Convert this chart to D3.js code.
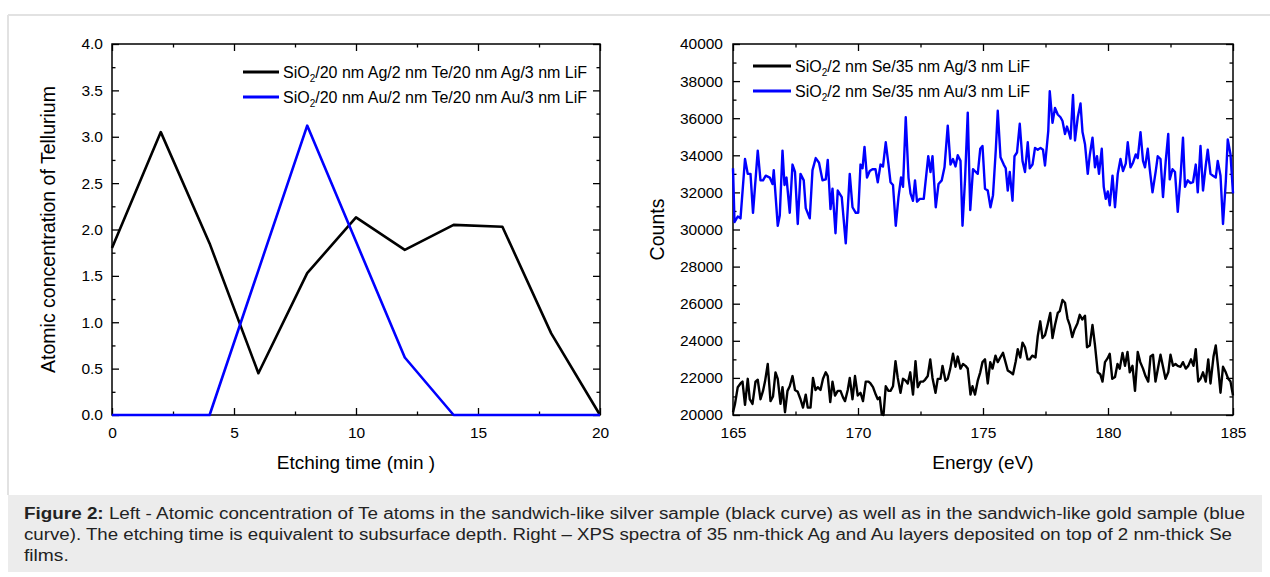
<!DOCTYPE html>
<html>
<head>
<meta charset="utf-8">
<script src="https://d3js.org/d3.v7.min.js"></script>
<style>
  body { margin:0; background:#fff; }
  svg text { font-family: "Liberation Sans", Arial, sans-serif; }
</style>
</head>
<body>
<svg id="fig"></svg>
<script>
//********************** left panel data ************************//
var etchTime = [0, 2, 4, 6, 8, 10, 12, 14, 16, 18, 20];
var teAg = [1.80, 3.05, 1.85, 0.45, 1.53, 2.13, 1.78, 2.05, 2.03, 0.88, 0.00];
var teAu = [0, 0, 0, 1.56, 3.12, 1.87, 0.62, 0, 0, 0, 0];
var leftLegend = ["/20 nm Ag/2 nm Te/20 nm Ag/3 nm LiF", "/20 nm Au/2 nm Te/20 nm Au/3 nm LiF"];

//********************** right panel data ***********************//
var auEnergy = [165.00,165.06,165.19,165.30,165.48,165.59,165.70,165.80,165.99,166.10,166.20,166.31,166.47,166.58,166.63,166.79,166.87,166.98,167.06,167.14,
  167.27,167.38,167.48,167.59,167.70,167.83,167.91,168.07,168.18,168.31,168.44,168.58,168.71,168.79,168.90,168.98,169.10,169.19,169.35,169.51,
  169.67,169.78,169.91,170.01,170.10,170.18,170.26,170.36,170.47,170.58,170.70,170.79,170.90,171.00,171.11,171.22,171.30,171.40,171.51,171.62,
  171.72,171.80,171.91,172.02,172.10,172.20,172.28,172.36,172.47,172.63,172.81,172.90,172.98,173.11,173.22,173.35,173.46,173.59,173.70,173.80,
  173.90,173.99,174.10,174.18,174.28,174.39,174.49,174.60,174.71,174.79,174.89,174.98,175.08,175.19,175.30,175.40,175.51,175.59,175.70,175.83,
  175.91,175.99,176.07,176.18,176.26,176.36,176.47,176.58,176.68,176.79,176.87,176.98,177.08,177.19,177.30,177.40,177.48,177.61,177.67,177.78,
  177.88,177.99,178.10,178.18,178.28,178.36,178.44,178.50,178.60,178.68,178.79,178.90,178.98,179.08,179.19,179.27,179.38,179.48,179.56,179.64,
  179.75,179.83,179.91,179.99,180.07,180.18,180.28,180.39,180.50,180.60,180.71,180.79,180.90,181.00,181.11,181.19,181.30,181.40,181.48,181.59,
  181.67,181.78,181.91,181.99,182.10,182.20,182.31,182.41,182.47,182.58,182.68,182.79,182.90,183.00,183.08,183.19,183.30,183.40,183.51,183.59,
  183.70,183.80,183.91,183.99,184.10,184.20,184.31,184.39,184.50,184.60,184.71,184.79,184.90,185.00];
var auCounts = [33300,30400,30700,30600,33800,33000,33000,30900,34250,32650,32650,32900,32800,32450,33200,30200,30750,34250,32400,32800,
  30900,33500,33100,30300,33000,32650,31150,30600,33200,33850,33600,32650,32700,33750,31100,32200,29800,32100,31750,29250,
  33000,31200,30900,30900,33500,33300,34450,32800,33150,33250,33250,32550,33500,33400,34700,33500,32550,32400,30200,31750,
  32800,32300,36050,32800,31950,31550,32650,31500,31650,31650,33950,33100,33950,31200,32450,32650,33350,35600,33500,33800,
  33400,34000,33700,30200,32650,36300,31050,33250,33100,33000,34350,34500,32200,32100,31200,31850,34250,36400,33900,33500,
  33300,32100,33100,31550,33950,34150,35700,33700,33100,34700,33300,33500,34400,34300,34400,34300,33450,35300,37450,35750,
  36550,36200,36050,35850,35150,35550,35200,34900,37250,34800,36050,36800,35250,34600,33000,34000,34950,33350,33950,33000,
  34350,32300,31650,32050,31300,32900,31200,33000,33800,33150,33550,34700,33350,33600,34050,33850,35250,33700,33350,34350,
  33250,32000,33150,33950,33800,31750,33700,35150,32700,33250,33100,30950,32800,34950,32300,32650,32500,32550,33500,32000,
  34500,32100,33450,34300,33000,32900,32800,33700,32900,30300,32550,34850,34050,31950];

var agEnergy = [165.00,165.08,165.19,165.30,165.38,165.48,165.59,165.67,165.78,165.90,165.99,166.10,166.20,166.28,166.39,166.50,166.60,166.70,166.79,166.90,
  166.98,167.08,167.18,167.27,167.38,167.48,167.59,167.70,167.80,167.91,167.99,168.10,168.20,168.30,168.39,168.50,168.60,168.71,168.79,168.89,
  168.98,169.08,169.19,169.30,169.40,169.48,169.59,169.67,169.78,169.88,169.99,170.10,170.20,170.31,170.42,170.50,170.60,170.71,170.79,170.87,
  170.95,171.02,171.11,171.22,171.30,171.40,171.50,171.59,171.70,171.80,171.91,171.99,172.09,172.20,172.30,172.39,172.50,172.60,172.68,172.79,
  172.89,172.98,173.10,173.19,173.30,173.38,173.50,173.59,173.69,173.80,173.90,173.99,174.10,174.20,174.30,174.39,174.50,174.58,174.68,174.79,
  174.89,174.98,175.08,175.19,175.29,175.38,175.50,175.59,175.69,175.80,175.90,175.99,176.10,176.20,176.31,176.39,176.49,176.58,176.68,176.78,
  176.87,176.97,177.10,177.19,177.29,177.38,177.48,177.59,177.69,177.78,177.88,177.99,178.07,178.18,178.28,178.38,178.47,178.57,178.66,178.78,
  178.87,178.97,179.08,179.16,179.27,179.38,179.48,179.59,179.69,179.78,179.88,179.98,180.07,180.17,180.28,180.38,180.47,180.58,180.68,180.78,
  180.87,180.98,181.08,181.19,181.29,181.40,181.50,181.61,181.70,181.80,181.90,182.01,182.10,182.20,182.30,182.41,182.50,182.60,182.70,182.79,
  182.90,183.00,183.11,183.21,183.32,183.42,183.51,183.61,183.70,183.80,183.91,184.01,184.10,184.22,184.31,184.41,184.50,184.60,184.71,184.81,
  184.90,185.00];
var agCounts = [20150,20600,21500,21700,21800,20550,21950,20850,20600,21800,21900,20850,21300,21800,22750,20750,21000,22300,21950,20600,
  21500,20150,21300,21550,22100,21350,21250,20850,20400,21100,20400,20400,22000,21350,21500,21350,21950,22300,22100,20700,
  21800,21050,21300,21300,20950,20750,21350,22000,20850,22100,21050,21200,20750,21800,21800,21700,21500,21100,20850,20950,
  20050,20000,21550,21300,21300,21550,22900,22000,21200,21950,21850,21700,22300,21100,22900,21500,21800,21800,21900,22100,
  23000,22000,21200,21950,21950,22650,21850,21950,22500,23300,22600,23150,22500,22750,22650,22500,21100,21550,21100,21850,
  22300,22850,23000,21700,22850,22500,23200,22850,23100,23350,22850,22400,22300,22200,22900,23550,23100,23900,23650,23000,
  23000,23200,23100,24250,25050,24150,24300,24900,25500,24150,24850,25500,25600,26200,26050,25200,24850,24200,24600,24950,
  25400,25150,25350,23650,23750,24850,23750,22300,22200,21800,22850,23050,23300,21950,22050,22750,22500,23350,22650,23400,
  22300,22650,21300,23400,22850,22500,22100,21800,23150,23250,21800,22600,23250,22600,21950,22300,23250,22650,22750,22650,
  22600,22850,22500,22650,23000,22650,23550,21800,21950,22300,21800,23000,21700,23150,23750,22500,21200,22600,22300,21950,
  21800,21050];
var rightLegend = ["/2 nm Se/35 nm Ag/3 nm LiF", "/2 nm Se/35 nm Au/3 nm LiF"];

var captionLines = [
  "Left - Atomic concentration of Te atoms in the sandwich-like silver sample (black curve) as well as in the sandwich-like gold sample (blue",
  "curve). The etching time is equivalent to subsurface depth. Right \u2013 XPS spectra of 35 nm-thick Ag and Au layers deposited on top of 2 nm-thick Se",
  "films."
];

var screen = {width:1270, height:577};
var svg = d3.select("#fig")
  .attr("width", screen.width)
  .attr("height", screen.height);

// page frame + caption box
svg.append("line").attr("x1",8).attr("x2",1270).attr("y1",15).attr("y2",15)
  .attr("stroke","#e2e2e2").attr("stroke-width",2);
svg.append("line").attr("x1",8).attr("x2",8).attr("y1",15).attr("y2",495)
  .attr("stroke","#e2e2e2").attr("stroke-width",2);
svg.append("rect").attr("x",8).attr("y",495).attr("width",1254).attr("height",77)
  .attr("fill","#ececec");

// caption lines are stretched to the widths seen in the figure
var capWidths = [1221, 1208, null];
var cap = svg.append("g").attr("transform","translate(24,0)");
captionLines.forEach(function(line, i)
{
  var t = cap.append("text")
    .attr("x",0).attr("y",519 + i*21)
    .attr("font-size","16px").attr("fill","#222");
  if (capWidths[i]) { t.attr("textLength",capWidths[i]).attr("lengthAdjust","spacingAndGlyphs"); }
  if (i == 0)
  {
    t.append("tspan").attr("font-weight","bold").text("Figure 2:");
    t.append("tspan").text(" " + line);
  }
  else
  {
    t.text(line);
  }
});
// the short last line gets the same horizontal stretch
cap.select("text:last-child").attr("transform","scale(1.2,1)");

var drawPanel = function(opt)
{
  var box = opt.box;
  var width = box.right - box.left;
  var height = box.bottom - box.top;
  var xScale = d3.scaleLinear().domain(opt.xDomain).range([0,width]);
  var yScale = d3.scaleLinear().domain(opt.yDomain).range([height,0]);

  var plot = svg.append("g")
    .attr("transform","translate("+box.left+","+box.top+")");

  var addAxis = function(axis, tr, labels)
  {
    var g = plot.append("g").attr("transform",tr).call(axis);
    g.select(".domain").remove();
    g.selectAll("line").attr("stroke","#000").attr("stroke-width",1.3);
    if (!labels) { g.selectAll("text").remove(); }
    else { g.selectAll("text").attr("font-size","15.5px").attr("fill","#000"); }
  };

  var bottom = "translate(0,"+height+")";
  var right = "translate("+width+",0)";
  addAxis(d3.axisBottom(xScale).tickValues(opt.xMinor).tickSize(-3.5), bottom, false);
  addAxis(d3.axisTop(xScale).tickValues(opt.xMinor).tickSize(-3.5), "", false);
  addAxis(d3.axisLeft(yScale).tickValues(opt.yMinor).tickSize(-3.5), "", false);
  addAxis(d3.axisRight(yScale).tickValues(opt.yMinor).tickSize(-3.5), right, false);
  addAxis(d3.axisBottom(xScale).tickValues(opt.xMajor).tickSize(-7).tickPadding(12), bottom, true);
  addAxis(d3.axisTop(xScale).tickValues(opt.xMajor).tickSize(-7), "", false);
  addAxis(d3.axisLeft(yScale).tickValues(opt.yMajor).tickSize(-7).tickPadding(opt.yPad).tickFormat(opt.yFormat), "", true);
  addAxis(d3.axisRight(yScale).tickValues(opt.yMajor).tickSize(-7), right, false);

  plot.append("rect")
    .attr("width",width).attr("height",height)
    .attr("fill","none").attr("stroke","#000").attr("stroke-width",1.5);

  var line = d3.line()
    .x(function(d){return xScale(d[0]);})
    .y(function(d){return yScale(d[1]);});

  opt.series.forEach(function(s)
  {
    plot.append("path")
      .datum(d3.zip(s.x, s.y))
      .attr("d", line)
      .attr("fill","none")
      .attr("stroke", s.color)
      .attr("stroke-width", s.width)
      .attr("stroke-linejoin","round");
  });

  // legend
  opt.series.forEach(function(s, i)
  {
    var ly = opt.legend.y + i*opt.legend.gap;
    svg.append("line")
      .attr("x1",opt.legend.x).attr("x2",opt.legend.x + opt.legend.len)
      .attr("y1",ly).attr("y2",ly)
      .attr("stroke",s.color).attr("stroke-width",3);
    var t = svg.append("text")
      .attr("x",opt.legend.x + opt.legend.len + 4).attr("y",ly + 5.5)
      .attr("font-size","16px");
    t.append("tspan").text("SiO");
    t.append("tspan").attr("font-size","10px").attr("dy",4).text("2");
    t.append("tspan").attr("dy",-4).text(s.label);
  });

  svg.append("text")
    .attr("x",(box.left+box.right)/2).attr("y",box.bottom + 54)
    .attr("text-anchor","middle").attr("font-size","19px")
    .text(opt.xTitle);
  svg.append("text")
    .attr("transform","translate("+opt.yTitleX+","+((box.top+box.bottom)/2)+") rotate(-90)")
    .attr("text-anchor","middle").attr("font-size","19.5px")
    .text(opt.yTitle);
};

drawPanel({
  box:{left:112, right:600, top:44, bottom:415},
  xDomain:[0,20], yDomain:[0,4],
  xMajor:[0,5,10,15,20], xMinor:[2.5,7.5,12.5,17.5],
  yMajor:[0,0.5,1,1.5,2,2.5,3,3.5,4], yMinor:[0.25,0.75,1.25,1.75,2.25,2.75,3.25,3.75],
  yFormat:d3.format(".1f"), yPad:9,
  xTitle:"Etching time (min )", yTitle:"Atomic concentration of Tellurium", yTitleX:55,
  legend:{x:243, y:72, gap:25, len:36},
  series:[
    {x:etchTime, y:teAg, color:"#000", width:2.6, label:leftLegend[0]},
    {x:etchTime, y:teAu, color:"#0000ff", width:2.6, label:leftLegend[1]}
  ]
});

drawPanel({
  box:{left:733, right:1233, top:44, bottom:415},
  xDomain:[165,185], yDomain:[20000,40000],
  xMajor:[165,170,175,180,185], xMinor:[167.5,172.5,177.5,182.5],
  yMajor:d3.range(20000,40001,2000), yMinor:d3.range(21000,40000,2000),
  yFormat:d3.format("d"), yPad:10,
  xTitle:"Energy (eV)", yTitle:"Counts", yTitleX:664,
  legend:{x:753, y:66, gap:25, len:38},
  series:[
    {x:agEnergy, y:agCounts, color:"#000", width:2.4, label:rightLegend[0]},
    {x:auEnergy, y:auCounts, color:"#0000ff", width:2.4, label:rightLegend[1]}
  ]
});
</script>
</body>
</html>
